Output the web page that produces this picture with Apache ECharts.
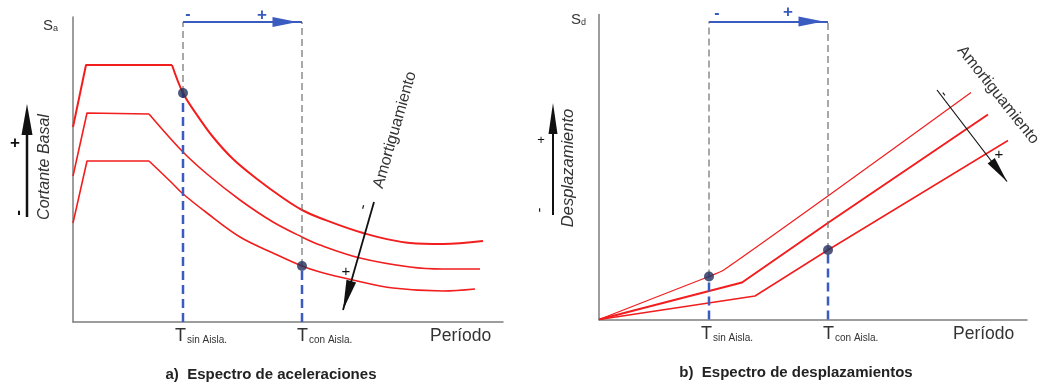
<!DOCTYPE html>
<html>
<head>
<meta charset="utf-8">
<script src="https://cdn.jsdelivr.net/npm/echarts@6/dist/echarts.min.js"></script>
<style>
  html, body { margin: 0; background: #fff; }
  #chart { width: 1046px; height: 387px; }
</style>
</head>
<body>
<div id="chart"></div>
<script>
// periodos marcados (sin / con aislamiento)
const tSin = 1.10
const tCon = 2.29

// a) Espectro de aceleraciones: Sa(T) para tres amortiguamientos
const saPeriod1 = [0, 0.13, 0.99, 1.10, 1.24, 1.40, 1.60, 1.84, 2.10, 2.29, 2.47, 2.90, 3.37, 3.70, 4.10]
const saValue1  = [1.95, 2.57, 2.57, 2.29, 2.07, 1.85, 1.63, 1.43, 1.24, 1.12, 1.04, 0.89, 0.79, 0.78, 0.81]
const saPeriod2 = [0, 0.14, 0.76, 1.09, 1.34, 1.67, 2.00, 2.29, 2.47, 2.87, 3.37, 3.70, 4.07]
const saValue2  = [1.46, 2.09, 2.08, 1.71, 1.48, 1.22, 1.00, 0.85, 0.77, 0.64, 0.55, 0.53, 0.53]
const saPeriod3 = [0, 0.14, 0.76, 0.99, 1.09, 1.34, 1.67, 2.00, 2.29, 2.47, 2.80, 3.20, 3.70, 4.02]
const saValue3  = [0.99, 1.61, 1.61, 1.39, 1.29, 1.09, 0.85, 0.69, 0.56, 0.50, 0.42, 0.34, 0.31, 0.33]
const saDots = [2.29, 0.56]          // Sa en tSin (curva alta) y tCon (curva baja)
const saGuideTop = 3.00
const saDamping = [[3.01, 1.20], [2.70, 0.12]]

// b) Espectro de desplazamientos: Sd(T)
const sdPeriod1 = [0, 1.10, 1.24, 2.31, 3.72]
const sdValue1  = [0, 0.43, 0.49, 1.25, 2.27]
const sdPeriod2 = [0, 1.43, 2.31, 3.89]
const sdValue2  = [0, 0.37, 0.98, 2.05]
const sdPeriod3 = [0, 1.56, 2.29, 4.09]
const sdValue3  = [0, 0.235, 0.695, 1.79]
const sdDots = [0.43, 0.695]
const sdGuideTop = 2.98
const sdDamping = [[3.38, 2.295], [4.08, 1.38]]

const RED = '#f21d1d'
const BLUE = '#3a5bbf'
const GREY = '#6f6f6f'
const FONT = '"Liberation Sans", Arial, sans-serif'

function pairs(xs, ys) {
  return xs.map(function (x, i) { return [x, ys[i]] })
}

function line(g, data, w, smooth) {
  return {
    type: 'line', xAxisIndex: g, yAxisIndex: g,
    data: data, symbol: 'none', silent: true, smooth: smooth || false,
    lineStyle: { color: RED, width: w }
  }
}

// tramo recto (subida + meseta) y rama descendente suavizada
function spectrum(g, xs, ys, w, cut) {
  const pts = pairs(xs, ys)
  return [line(g, pts.slice(0, cut + 1), w), line(g, pts.slice(cut), w, 0.35)]
}

// linea vertical discontinua entre y0 e y1
function guide(g, x, y0, y1, color, w, dash) {
  return {
    type: 'line', xAxisIndex: g, yAxisIndex: g,
    data: [[x, y0], [x, y1]], symbol: 'none', silent: true,
    lineStyle: { color: color, width: w, type: dash }
  }
}

function dots(g, ys) {
  return {
    type: 'scatter', xAxisIndex: g, yAxisIndex: g, z: 5,
    data: [[tSin, ys[0]], [tCon, ys[1]]],
    symbolSize: 10, itemStyle: { color: '#222f5c' }, silent: true
  }
}

// flechas: periodo (azul) y amortiguamiento (negra)
function arrows(g, top, damp, dampW, head) {
  return {
    type: 'line', xAxisIndex: g, yAxisIndex: g, data: [],
    markLine: {
      silent: true, animation: false, symbol: ['none', 'none'],
      label: { show: false },
      data: [
        [
          { coord: [tSin, top], lineStyle: { color: BLUE, width: 2, type: 'solid' } },
          { coord: [tCon, top], symbol: 'triangle', symbolSize: [10, 25], symbolOffset: [0, 17] }
        ],
        [
          { coord: damp[0], lineStyle: { color: '#111', width: dampW, type: 'solid' } },
          { coord: damp[1], symbol: 'triangle', symbolSize: head, symbolOffset: [0, head[1] / 2],
            itemStyle: { color: '#111' } }
        ]
      ]
    }
  }
}

function axisPair(g, max) {
  return {
    gridIndex: g, type: 'value', min: 0, max: max,
    axisLine: { show: true, onZero: false, lineStyle: { color: '#7d7d7d', width: 1.5 } },
    axisTick: { show: false }, axisLabel: { show: false }, splitLine: { show: false }
  }
}

function txt(x, y, text, size, opt) {
  opt = opt || {}
  return {
    type: 'text', x: x, y: y, rotation: opt.rot || 0, silent: true,
    style: {
      text: text, fontSize: size, fontFamily: FONT,
      fontStyle: opt.italic ? 'italic' : 'normal',
      fontWeight: opt.bold ? 'bold' : 'normal',
      fill: opt.color || '#333',
      align: opt.align || 'center', verticalAlign: opt.valign || 'middle',
      rich: opt.rich
    }
  }
}

const tRich = {
  t: { fontSize: 18, fontFamily: FONT, color: '#4a5da6', verticalAlign: 'bottom' },
  s: { fontSize: 10, fontFamily: FONT, color: '#4a5da6', verticalAlign: 'bottom', padding: [0, 0, 0, 1] }
}
const sRich = {
  a: { fontSize: 15, fontFamily: FONT, color: '#444', verticalAlign: 'bottom' },
  b: { fontSize: 9, fontFamily: FONT, color: '#444', verticalAlign: 'bottom' }
}

function upArrow(x, y0, y1, w, hw) {
  return [
    { type: 'line', silent: true, shape: { x1: x, y1: y0, x2: x, y2: y1 + 25 }, style: { stroke: '#111', lineWidth: w } },
    { type: 'polygon', silent: true, shape: { points: [[x, y1], [x - hw, y1 + 31], [x + hw, y1 + 31]] }, style: { fill: '#111' } }
  ]
}

const graphics = [].concat(
  upArrow(27, 217, 104, 2.5, 5.5),
  upArrow(553, 215, 103, 2, 4.5),
  [
    txt(15, 143, '+', 17, { bold: true, color: '#111' }),
    txt(18, 213, '-', 17, { bold: true, color: '#111', rot: Math.PI / 2 }),
    txt(45, 167, 'Cortante Basal', 16, { italic: true, rot: Math.PI / 2 }),
    txt(541, 140, '+', 13, { color: '#111' }),
    txt(540, 210, '-', 14, { color: '#111', rot: Math.PI / 2 }),
    txt(568, 168, 'Desplazamiento', 16.5, { italic: true, rot: Math.PI / 2 }),

    txt(43, 18, '{a|S}{b|a}', 15, { align: 'left', valign: 'top', rich: sRich }),
    txt(571, 12, '{a|S}{b|d}', 15, { align: 'left', valign: 'top', rich: sRich }),

    txt(188, 15, '-', 16, { bold: true, color: BLUE }),
    txt(262, 15, '+', 17, { bold: true, color: BLUE }),
    txt(717, 14, '-', 16, { bold: true, color: BLUE }),
    txt(788, 12, '+', 17, { bold: true, color: BLUE }),

    txt(395, 130, 'Amortiguamiento', 16, { rot: 1.29 }),
    txt(363, 207, '-', 15, { color: '#111', rot: 1.29 }),
    txt(346, 272, '+', 15, { color: '#111' }),
    txt(998, 95, 'Amortiguamiento', 16, { rot: -0.897 }),
    txt(944, 94, '-', 14, { color: '#111', rot: -0.897 }),
    txt(999, 155, '+', 15, { color: '#111' }),

    txt(175, 327, '{t|T}{s|sin Aisla.}', 18, { align: 'left', valign: 'top', rich: tRich }),
    txt(297, 327, '{t|T}{s|con Aisla.}', 18, { align: 'left', valign: 'top', rich: tRich }),
    txt(701, 325, '{t|T}{s|sin Aisla.}', 18, { align: 'left', valign: 'top', rich: tRich }),
    txt(823, 325, '{t|T}{s|con Aisla.}', 18, { align: 'left', valign: 'top', rich: tRich }),
    txt(430, 336, 'Período', 17.5, { align: 'left' }),
    txt(953, 334, 'Período', 17.5, { align: 'left' }),

    txt(271, 375, 'a)  Espectro de aceleraciones', 15, { bold: true, color: '#222' }),
    txt(796, 373, 'b)  Espectro de desplazamientos', 15, { bold: true, color: '#222' })
  ]
)

const chart = echarts.init(document.getElementById('chart'))
chart.setOption({
  animation: false,
  backgroundColor: '#fff',
  grid: [
    { left: 73, top: 17, width: 430, height: 305 },
    { left: 599, top: 14.5, width: 428, height: 305 }
  ],
  xAxis: [axisPair(0, 4.30), axisPair(1, 4.28)],
  yAxis: [axisPair(0, 3.05), axisPair(1, 3.05)],
  graphic: graphics,
  series: [].concat(
    spectrum(0, saPeriod1, saValue1, 2, 2),
    spectrum(0, saPeriod2, saValue2, 1.6, 2),
    spectrum(0, saPeriod3, saValue3, 1.6, 2),
    [
      guide(0, tSin, saDots[0], saGuideTop, GREY, 1.2, [7, 4]),
      guide(0, tCon, saDots[1], saGuideTop, GREY, 1.2, [7, 4]),
      guide(0, tSin, 0, saDots[0], BLUE, 2.5, [9, 5]),
      guide(0, tCon, 0, saDots[1], BLUE, 2.5, [9, 5]),
      dots(0, saDots),
      arrows(0, saGuideTop, saDamping, 1.8, [10, 30]),

      line(1, pairs(sdPeriod1, sdValue1), 1.2, 0.15),
      line(1, pairs(sdPeriod2, sdValue2), 2),
      line(1, pairs(sdPeriod3, sdValue3), 1.5),
      guide(1, tSin, sdDots[0], sdGuideTop, GREY, 1.2, [7, 4]),
      guide(1, tCon, sdDots[1], sdGuideTop, GREY, 1.2, [7, 4]),
      guide(1, tSin, 0, sdDots[0], BLUE, 2.5, [9, 5]),
      guide(1, tCon, 0, sdDots[1], BLUE, 2.5, [9, 5]),
      dots(1, sdDots),
      arrows(1, sdGuideTop, sdDamping, 1.2, [9, 26])
    ]
  )
})
</script>
</body>
</html>
